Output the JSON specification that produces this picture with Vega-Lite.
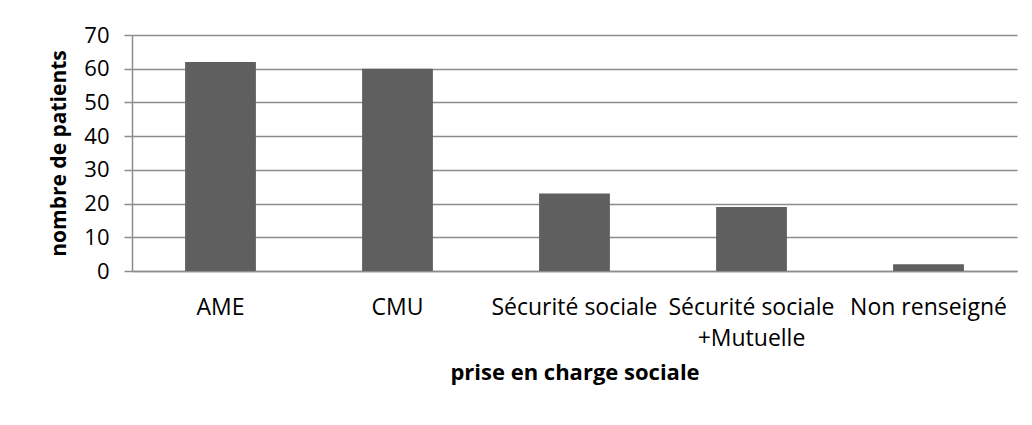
{
  "$schema": "https://vega.github.io/schema/vega-lite/v6.json",
  "width": 885,
  "height": 236,
  "autosize": {"type": "none"},
  "padding": {"left": 132, "top": 35, "right": 15, "bottom": 154},
  "background": "white",
  "config": {
    "view": {"stroke": null},
    "font": "Open Sans"
  },
  "data": {
    "values": [
      {"categorie": "AME", "patients": 62},
      {"categorie": "CMU", "patients": 60},
      {"categorie": "Sécurité sociale", "patients": 23},
      {"categorie": "Sécurité sociale +Mutuelle", "patients": 19},
      {"categorie": "Non renseigné", "patients": 2}
    ]
  },
  "mark": {"type": "bar", "color": "#5f5f5f"},
  "encoding": {
    "x": {
      "field": "categorie",
      "type": "nominal",
      "sort": null,
      "scale": {"paddingInner": 0.6, "paddingOuter": 0.3},
      "axis": {
        "title": "prise en charge sociale",
        "titleFont": "Open Sans",
        "titleFontSize": 22,
        "titleFontWeight": "bold",
        "titleColor": "#000000",
        "titlePadding": 12,
        "labelAngle": 0,
        "labelFont": "Open Sans",
        "labelFontSize": 23,
        "labelColor": "#000000",
        "labelPadding": 25,
        "labelLineHeight": 31,
        "labelLimit": 400,
        "labelExpr": "datum.label == 'Sécurité sociale +Mutuelle' ? ['Sécurité sociale', '+Mutuelle'] : datum.label",
        "ticks": false,
        "domainColor": "#8c8c8c",
        "domainWidth": 1.5,
        "grid": false
      }
    },
    "y": {
      "field": "patients",
      "type": "quantitative",
      "scale": {"domain": [0, 70]},
      "axis": {
        "title": "nombre de patients",
        "titleFont": "Open Sans",
        "titleFontSize": 21,
        "titleFontWeight": "bold",
        "titleColor": "#000000",
        "titlePadding": 14,
        "values": [0, 10, 20, 30, 40, 50, 60, 70],
        "labelFont": "Open Sans",
        "labelFontSize": 22,
        "labelColor": "#000000",
        "labelPadding": 15,
        "tickSize": 8,
        "tickColor": "#8c8c8c",
        "tickWidth": 1.5,
        "domainColor": "#8c8c8c",
        "domainWidth": 1.5,
        "gridColor": "#8c8c8c",
        "gridWidth": 1.5
      }
    }
  }
}
